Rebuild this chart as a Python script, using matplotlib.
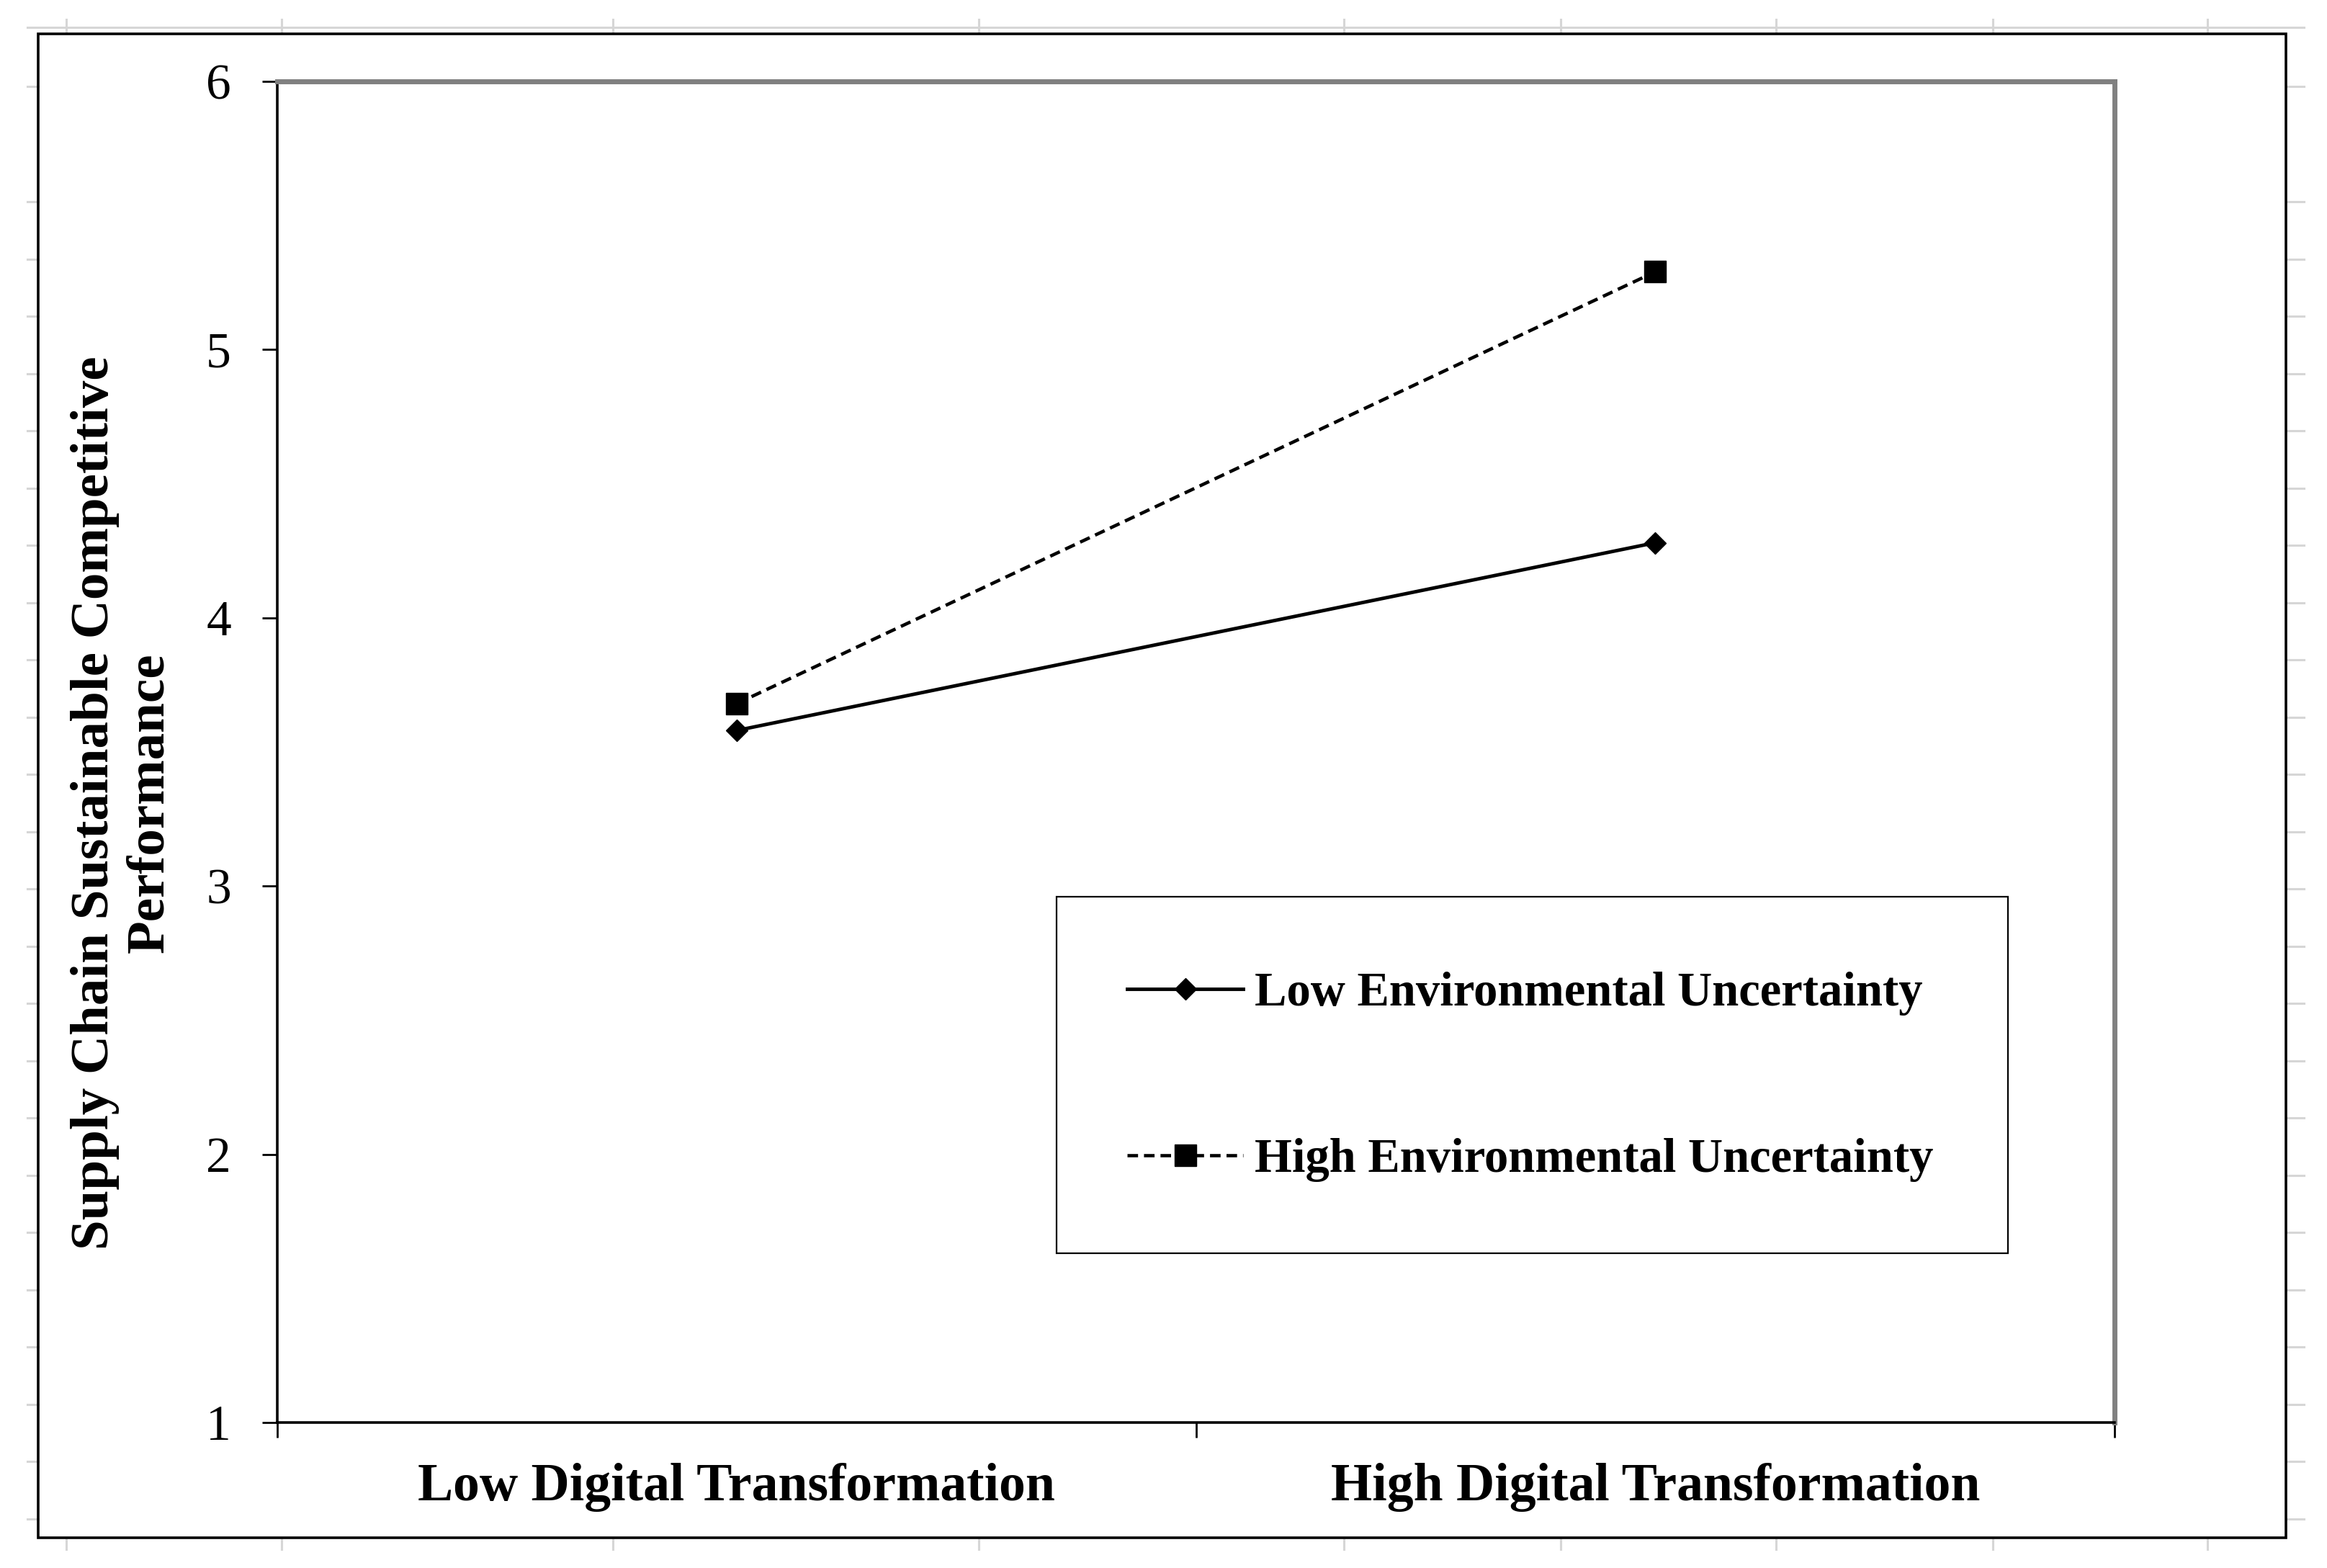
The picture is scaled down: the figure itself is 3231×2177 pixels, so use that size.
import matplotlib
matplotlib.use('Agg')
import matplotlib.pyplot as plt
from matplotlib.patches import Rectangle
from matplotlib.lines import Line2D

# --- Data ---
categories = ['Low Digital Transformation', 'High Digital Transformation']
low_uncertainty = [3.58, 4.28]
high_uncertainty = [3.68, 5.29]
series_labels = ['Low Environmental Uncertainty', 'High Environmental Uncertainty']
y_ticks = [1, 2, 3, 4, 5, 6]
y_label = 'Supply Chain Sustainable Competitive\nPerformance'

# --- Figure geometry (pixels of the 3231x2177 output) ---
W, H = 3231, 2177
DPI = 100
plt.rcParams['font.family'] = ['Liberation Serif', 'DejaVu Serif']


def fx(px):
    return px / W


def fy(py):
    return 1 - py / H


fig = plt.figure(figsize=(W / DPI, H / DPI), dpi=DPI)

# excel cell gridlines peeking out round the chart
grid = dict(color='#d6d6d6', lw=2.2, transform=fig.transFigure, zorder=0)
fig.add_artist(Line2D([fx(38), fx(3199)], [fy(38), fy(38)], **grid))
for x in [92, 391, 851, 1359, 1866, 2167, 2466, 2767, 3065]:
    fig.add_artist(Line2D([fx(x), fx(x)], [fy(27), fy(46)], **grid))
    fig.add_artist(Line2D([fx(x), fx(x)], [fy(2137), fy(2151)], **grid))
row_y = [120] + [280 + 79.5 * k for k in range(24)]
for y in row_y:
    fig.add_artist(Line2D([fx(38), fx(53)], [fy(y), fy(y)], **grid))
    fig.add_artist(Line2D([fx(3176), fx(3199)], [fy(y), fy(y)], **grid))

# chart border
fig.add_artist(Rectangle((fx(53), fy(2135)), fx(3174) - fx(53), fy(47) - fy(2135),
                         fill=False, edgecolor='black', lw=2.6,
                         transform=fig.transFigure, zorder=1))

# --- Plot area ---
ax = fig.add_axes([fx(385), fy(1975), fx(2936) - fx(385), fy(113) - fy(1975)])
x = [1, 2]
ax.plot(x, low_uncertainty, color='black', lw=3.5, marker='D', ms=15.5,
        label=series_labels[0], zorder=3)
ax.plot(x, high_uncertainty, color='black', lw=3.3, ls=(0, (3.2, 1.8)),
        marker='s', ms=21.5, label=series_labels[1], zorder=3)

ax.set_xlim(0.5, 2.5)
ax.set_ylim(1, 6)
ax.set_yticks(y_ticks)
ax.set_yticklabels([str(v) for v in y_ticks])
ax.tick_params(axis='y', direction='out', length=15, width=2, labelsize=50, pad=31)

ax.set_xticks([0.5, 1.5, 2.5])
ax.set_xticklabels([])
ax.tick_params(axis='x', which='major', direction='out', length=15, width=2)
ax.set_xticks(x, minor=True)
ax.set_xticklabels(categories, minor=True, fontsize=53, fontweight='bold')
ax.tick_params(axis='x', which='minor', length=0, pad=40)

for side in ['top', 'right']:
    ax.spines[side].set_color('#808080')
    ax.spines[side].set_linewidth(5)
for side in ['left', 'bottom']:
    ax.spines[side].set_color('black')
    ax.spines[side].set_linewidth(2.6)

fig.text(fx(170), fy(1115), y_label, rotation=90, ha='center', va='center',
         fontsize=54, fontweight='bold', linespacing=1.15, multialignment='center')

# legend box and entries
fig.add_artist(Rectangle((fx(1467), fy(1740)), fx(2788) - fx(1467), fy(1245) - fy(1740),
                         fill=False, edgecolor='black', lw=1.6,
                         transform=fig.transFigure, zorder=4))
handles, labels = ax.get_legend_handles_labels()
ax.legend(handles, labels, loc='center left', bbox_to_anchor=(fx(1565), fy(1495)),
          bbox_transform=fig.transFigure, frameon=False, borderpad=0, borderaxespad=0,
          handlelength=2.42, handletextpad=0.24, labelspacing=2.55,
          prop={'size': 48, 'weight': 'bold'})

fig.savefig('out.png', dpi=DPI, facecolor='white')
